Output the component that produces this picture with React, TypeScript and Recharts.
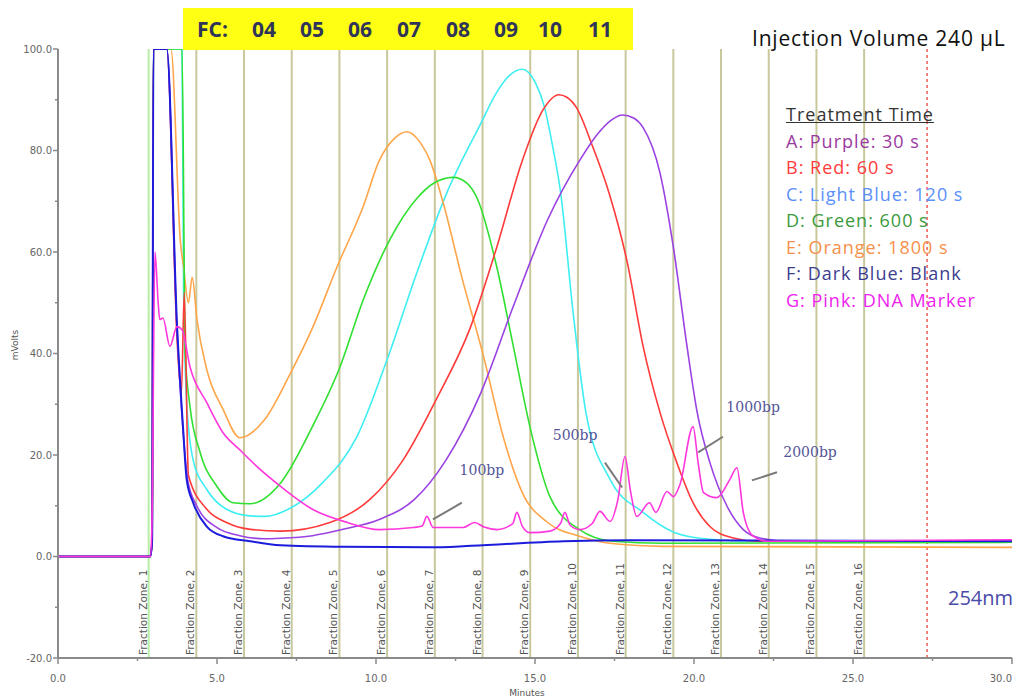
import React from "react";
import { LineChart, Line, XAxis, YAxis, ReferenceLine, ReferenceDot } from "recharts";

type Pt = [number, number];

// retention time (min), detector signal (mVolts)
const purpleA: Pt[] = [
  [0, 0], [2.9, 0], [2.96, 3], [3.0, 100], [3.42, 100], [3.74, 45], [3.93, 25], [4.08, 15],
  [4.37, 9.9], [5.0, 5.7], [5.72, 4.1], [6.5, 3.5], [7.0, 3.6], [8.0, 4.1], [9.0, 5.4],
  [10.1, 7.3], [11.2, 11.2], [12.2, 19], [13.3, 32.3], [14.3, 49], [15.4, 66.4], [16.4, 78],
  [17.0, 83.5], [17.4, 86], [17.75, 87], [18.1, 86.4], [18.4, 84.5], [18.93, 75.6],
  [19.35, 61], [19.78, 41.4], [20.1, 28.4], [20.5, 18.5], [21.04, 9.9], [21.55, 5.3],
  [22.1, 3.6], [23.0, 3], [30, 3],
];

const redB: Pt[] = [
  [0, 0], [2.9, 0], [2.96, 3], [3.0, 100], [3.42, 100], [3.75, 42], [3.88, 32], [3.97, 52],
  [4.1, 16], [4.68, 9.3], [5.3, 6.7], [6.0, 5.4], [7.0, 5], [8.55, 6.7], [9.8, 11.2],
  [10.85, 19], [11.9, 31], [12.96, 45], [13.8, 61], [14.6, 78], [15.25, 88], [15.75, 91],
  [16.0, 90.5], [16.3, 88.5], [16.8, 81], [17.36, 71], [17.9, 58], [18.4, 41.4],
  [18.93, 28.4], [19.46, 18.5], [19.97, 10.6], [20.5, 5.9], [21.2, 3.7], [22.0, 3], [30, 3],
];

const cyanC: Pt[] = [
  [0, 0], [2.9, 0], [2.96, 3], [3.0, 100], [3.9, 100], [3.95, 52], [4.05, 30], [4.25, 19],
  [4.68, 13.2], [5.3, 9.3], [6.04, 8], [6.5, 7.9], [7.3, 9.5], [8.33, 14.6], [9.4, 23.6],
  [10.35, 38.8], [11.29, 56], [12.23, 71.7], [13.27, 85], [13.8, 91.5], [14.2, 94.8],
  [14.6, 96], [15.0, 93.5], [15.3, 88.5], [15.55, 81], [15.8, 72], [16.2, 48], [16.6, 28.4],
  [17.36, 15.2], [18.4, 8.7], [19.4, 4.7], [20.5, 3.4], [22.0, 3], [30, 3],
];

const greenD: Pt[] = [
  [0, 0], [2.9, 0], [2.96, 3], [3.0, 100], [3.9, 100], [4.0, 40], [4.15, 29.6], [4.47, 20.5],
  [5.0, 13.8], [5.5, 10.6], [6.04, 10.4], [7.0, 14.5], [8.0, 25.6], [8.87, 37.4], [9.6, 50.6],
  [10.44, 62.5], [11.29, 70.6], [11.8, 73.5], [12.43, 74.7], [12.85, 73.6], [13.2, 70.3],
  [13.8, 57], [14.3, 42], [14.84, 25.6], [15.47, 11.8], [16.4, 5.3], [17.45, 3], [19.0, 2.6],
  [30, 2.8],
];

const orangeE: Pt[] = [
  [0, 0], [2.9, 0], [2.96, 3], [3.0, 100], [3.55, 100], [3.85, 62], [3.95, 57], [4.1, 50],
  [4.22, 55], [4.37, 46.7], [4.68, 36.8], [5.19, 29], [5.72, 23.4], [6.5, 27], [7.3, 36],
  [8.0, 45], [8.77, 57], [9.6, 69], [10.1, 78], [10.6, 82.5], [10.97, 83.7], [11.4, 81.5],
  [11.7, 78], [12.1, 70], [12.7, 55], [13.4, 39], [14.0, 23.6], [14.6, 12.6], [15.4, 6.7],
  [16.4, 4], [17.5, 2.5], [19.0, 2], [30, 1.8],
];

const blueF: Pt[] = [
  [0, 0], [2.9, 0], [2.96, 3], [3.0, 100], [3.42, 100], [3.74, 46], [3.93, 25.6], [4.05, 15],
  [4.25, 10.6], [4.68, 5.9], [5.19, 4], [6.04, 3], [7.0, 2.2], [9.0, 1.9], [11.7, 1.8],
  [13.0, 2.1], [15.9, 3], [18.0, 3.2], [30, 3],
];

const pinkG: Pt[] = [
  [0, 0], [2.9, 0], [2.95, 5], [3.05, 60], [3.15, 50], [3.2, 46.7], [3.3, 47], [3.52, 41.4],
  [3.74, 45.3], [3.9, 44.7], [4.15, 37.4], [4.68, 30.3], [5.19, 24.4], [5.72, 21],
  [6.26, 17.7], [7.0, 13.8], [8.0, 9.3], [9.1, 6.7], [10.1, 5.3], [11.17, 5.7], [11.45, 6],
  [11.6, 7.9], [11.8, 5.7], [12.74, 5.7], [13.1, 6.7], [13.4, 5.8], [13.8, 5.3], [14.3, 6.5],
  [14.43, 8.7], [14.6, 6], [14.84, 4.7], [15.47, 5], [15.8, 6.5], [15.94, 8.7], [16.1, 6.2],
  [16.4, 5.3], [16.8, 6.5], [17.04, 8.9], [17.36, 6.9], [17.6, 11], [17.83, 19.7], [18.0, 13],
  [18.2, 7.9], [18.6, 10.6], [18.8, 8.7], [19.15, 12.8], [19.35, 11.8], [19.56, 14.2],
  [19.97, 25.6], [20.13, 18.5], [20.3, 12.6], [20.72, 11.6], [21.13, 15.2], [21.35, 17.5],
  [21.55, 8.7], [21.86, 4], [22.3, 3], [30, 3.3],
];

// fraction collector zone boundaries (min)
const fractionZones = [
  2.85, 4.35, 5.85, 7.35, 8.85, 10.35, 11.85, 13.35, 14.85, 16.35, 17.85, 19.35, 20.85,
  22.35, 23.85, 25.35,
];
const runEnd = 27.33;

const xTicks = [0, 2.5, 5, 7.5, 10, 12.5, 15, 17.5, 20, 22.5, 25, 27.5, 30];
const yTicks = [-20, -10, 0, 10, 20, 30, 40, 50, 60, 70, 80, 90, 100];

const fcLabels = ["04", "05", "06", "07", "08", "09", "10", "11"];

const legendTitle = "Treatment Time";
const legendRows = [
  "A: Purple: 30 s",
  "B: Red: 60 s",
  "C: Light Blue: 120 s",
  "D: Green: 600 s",
  "E: Orange: 1800 s",
  "F: Dark Blue: Blank",
  "G: Pink: DNA Marker",
];

// ladder band labels with their pointer segments [t, mV]
const bpLabels = ["100bp", "500bp", "1000bp", "2000bp"];
const bpTextAt: Pt[] = [[13.33, 17.1], [16.26, 24], [21.86, 29.4], [23.65, 20.5]];
const bpPointerFrom: Pt[] = [[12.7, 10.6], [17.2, 18.5], [20.91, 23.6], [22.61, 16.6]];
const bpPointerTo: Pt[] = [[11.79, 7.3], [17.74, 13.6], [20.13, 20.5], [21.82, 15]];

const series = [
  { key: "cyan", pts: cyanC, color: "#3eeef2", width: 1.6 },
  { key: "orange", pts: orangeE, color: "#ffa54a", width: 1.6 },
  { key: "green", pts: greenD, color: "#30e030", width: 1.6 },
  { key: "red", pts: redB, color: "#ff3a3a", width: 1.6 },
  { key: "purple", pts: purpleA, color: "#9b42e2", width: 1.6 },
  { key: "blue", pts: blueF, color: "#1c1cdc", width: 2 },
  { key: "pink", pts: pinkG, color: "#ff36dc", width: 1.6 },
];

const legendColors = ["#9a3aa0", "#ff3b3b", "#5b8ff9", "#3c9a3c", "#f7904a", "#3d3d8f", "#ee22ee"];

const AXIS = "#8a8a8a";
const TICK_FONT = "DejaVu Sans";

function XTick({ x, y, payload }: any) {
  const major = payload.value % 5 === 0;
  const last = payload.value === 30;
  return (
    <g>
      <line x1={x} y1={y} x2={x} y2={y + (major ? 6 : 3)} stroke={AXIS} strokeWidth={1.5} />
      {major && (
        <text
          x={last ? x : x}
          y={y + 24}
          textAnchor={last ? "end" : "middle"}
          fontSize={10}
          fill="#666"
          fontFamily={TICK_FONT}
        >
          {payload.value.toFixed(1)}
        </text>
      )}
    </g>
  );
}

function YTick({ x, y, payload }: any) {
  const major = payload.value % 20 === 0;
  return (
    <g>
      <line x1={x - (major ? 5 : 3)} y1={y} x2={x} y2={y} stroke={AXIS} strokeWidth={1.5} />
      {major && (
        <text x={x - 6} y={y + 3.5} textAnchor="end" fontSize={10} fill="#666" fontFamily={TICK_FONT}>
          {payload.value.toFixed(1)}
        </text>
      )}
    </g>
  );
}

function ZoneLabel({ viewBox, text }: any) {
  if (!viewBox) return null;
  const bx = viewBox.x - 2;
  const by = viewBox.y + viewBox.height - 3;
  return (
    <text
      x={bx}
      y={by}
      transform={`rotate(-90 ${bx} ${by})`}
      fontSize={10.5}
      fill="#555"
      fontFamily={TICK_FONT}
    >
      {text}
    </text>
  );
}

const page: React.CSSProperties = {
  position: "absolute",
  left: 0,
  top: 0,
  width: 1015,
  height: 700,
  background: "#fff",
  overflow: "hidden",
};

const calibri = "'Open Sans', 'Noto Sans', sans-serif";
const fcLeft = [69, 117, 165, 214, 263, 311, 355, 405];

export default function App() {
  return (
    <div style={page}>
      <LineChart width={1015} height={700} margin={{ top: 49, right: 3, bottom: 12, left: 8 }}>
        <XAxis
          type="number"
          dataKey="t"
          domain={[0, 30]}
          ticks={xTicks}
          interval={0}
          allowDataOverflow
          height={30}
          tickSize={0}
          tickMargin={0}
          tickLine={false}
          axisLine={{ stroke: AXIS, strokeWidth: 2 }}
          tick={<XTick />}
        />
        <YAxis
          type="number"
          domain={[-20, 100]}
          ticks={yTicks}
          interval={0}
          allowDataOverflow
          width={50}
          tickSize={0}
          tickMargin={0}
          tickLine={false}
          axisLine={{ stroke: AXIS, strokeWidth: 2 }}
          tick={<YTick />}
        />
        {fractionZones.map((z, i) => (
          <ReferenceLine
            key={`zone-${i}`}
            x={z}
            stroke={i === 0 ? "#b6eea6" : "#c8c89c"}
            strokeWidth={2}
            label={<ZoneLabel text={`Fraction Zone, ${i + 1}`} />}
          />
        ))}
        <ReferenceLine x={runEnd} stroke="#f25a5a" strokeWidth={1.5} strokeDasharray="3 3" />
        {series.map((s) => (
          <Line
            key={s.key}
            data={s.pts.map(([t, v]) => ({ t, v }))}
            dataKey="v"
            type="monotone"
            stroke={s.color}
            strokeWidth={s.width}
            dot={false}
            activeDot={false}
            isAnimationActive={false}
          />
        ))}
        {bpLabels.map((lbl, i) => (
          <ReferenceLine
            key={`ptr-${lbl}`}
            segment={[
              { x: bpPointerFrom[i][0], y: bpPointerFrom[i][1] },
              { x: bpPointerTo[i][0], y: bpPointerTo[i][1] },
            ]}
            stroke="#7a7a7a"
            strokeWidth={2}
          />
        ))}
        {bpLabels.map((lbl, i) => (
          <ReferenceDot
            key={`bp-${lbl}`}
            x={bpTextAt[i][0]}
            y={bpTextAt[i][1]}
            r={0}
            fill="none"
            stroke="none"
            label={{
              value: lbl,
              position: "center",
              fill: "#55559a",
              fontSize: 14,
              fontFamily: "'DejaVu Serif', serif",
            }}
          />
        ))}
      </LineChart>

      {/* fraction collector header */}
      <div
        style={{
          position: "absolute",
          left: 183,
          top: 8,
          width: 450,
          height: 42,
          background: "#ffff14",
          fontFamily: calibri,
          fontWeight: 700,
          fontSize: 21,
          color: "#2f3558",
          lineHeight: "42px",
        }}
      >
        <span style={{ position: "absolute", left: 14 }}>FC:</span>
        {fcLabels.map((fc, i) => (
          <span key={fc} style={{ position: "absolute", left: fcLeft[i] }}>
            {fc}
          </span>
        ))}
      </div>

      <div
        style={{
          position: "absolute",
          left: 752,
          top: 24,
          fontFamily: calibri,
          fontSize: 21,
          letterSpacing: 0.8,
          color: "#111",
          whiteSpace: "nowrap",
        }}
      >
        Injection Volume 240 µL
      </div>

      <div
        style={{
          position: "absolute",
          left: 786,
          top: 101,
          fontFamily: calibri,
          fontSize: 18,
          letterSpacing: 1,
          whiteSpace: "nowrap",
        }}
      >
        <div style={{ color: "#333", textDecoration: "underline", lineHeight: "26.5px" }}>{legendTitle}</div>
        {legendRows.map((row, i) => (
          <div key={row} style={{ color: legendColors[i], lineHeight: "26.5px" }}>
            {row}
          </div>
        ))}
      </div>

      <div
        style={{
          position: "absolute",
          left: 948,
          top: 584,
          fontFamily: calibri,
          fontSize: 20,
          color: "#4a4aa8",
        }}
      >
        254nm
      </div>

      <div
        style={{
          position: "absolute",
          left: 15,
          top: 345,
          transform: "translate(-50%, -50%) rotate(-90deg)",
          fontFamily: TICK_FONT,
          fontSize: 9,
          color: "#555",
        }}
      >
        mVolts
      </div>
      <div
        style={{
          position: "absolute",
          left: 527,
          top: 693,
          transform: "translate(-50%, -50%)",
          fontFamily: TICK_FONT,
          fontSize: 9,
          color: "#555",
        }}
      >
        Minutes
      </div>
    </div>
  );
}
